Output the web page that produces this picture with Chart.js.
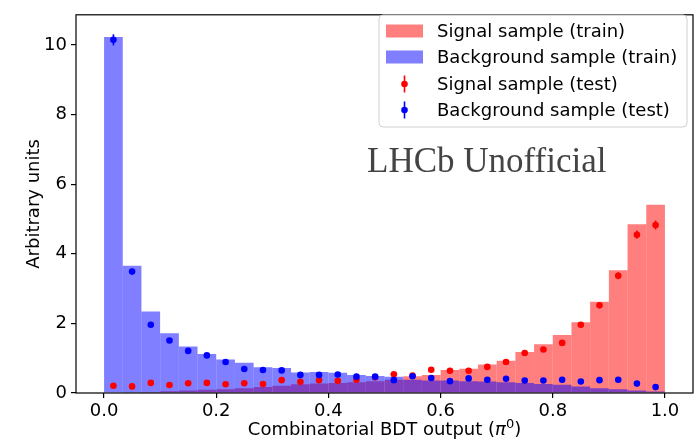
<!DOCTYPE html>
<html>
<head>
<meta charset="utf-8">
<script src="https://cdn.jsdelivr.net/npm/chart.js@4"></script>
<style>
    html, body { margin: 0; padding: 0; background: #fff; }
</style>
</head>
<body>
<canvas id="bdtChart" width="697" height="442"></canvas>
<script>
// bin centres of the 30-bin histogram on [0, 1]
var binCenters = [0.0167, 0.05, 0.0833, 0.1167, 0.15, 0.1833, 0.2167, 0.25, 0.2833, 0.3167,
    0.35, 0.3833, 0.4167, 0.45, 0.4833, 0.5167, 0.55, 0.5833, 0.6167, 0.65,
    0.6833, 0.7167, 0.75, 0.7833, 0.8167, 0.85, 0.8833, 0.9167, 0.95, 0.9833];

// training samples (histograms)
var signalTrain = [0.00, 0.01, 0.03, 0.05, 0.07, 0.09, 0.11, 0.14, 0.17, 0.21,
    0.25, 0.27, 0.29, 0.31, 0.34, 0.38, 0.48, 0.52, 0.66, 0.70,
    0.82, 0.93, 1.18, 1.40, 1.67, 2.03, 2.62, 3.53, 4.85, 5.41];
var backgroundTrain = [10.23, 3.66, 2.34, 1.72, 1.34, 1.12, 0.96, 0.87, 0.74, 0.72,
    0.59, 0.60, 0.58, 0.52, 0.49, 0.47, 0.38, 0.36, 0.36, 0.34,
    0.33, 0.31, 0.29, 0.26, 0.24, 0.19, 0.14, 0.11, 0.07, 0.04];

// test samples (points with errors)
var signalTest = [0.21, 0.19, 0.29, 0.23, 0.28, 0.29, 0.25, 0.28, 0.26, 0.37,
    0.32, 0.37, 0.35, 0.38, 0.45, 0.54, 0.50, 0.67, 0.64, 0.64,
    0.75, 0.89, 1.15, 1.25, 1.44, 1.96, 2.52, 3.37, 4.55, 4.83];
var signalTestErr = [0.02, 0.02, 0.03, 0.02, 0.03, 0.03, 0.03, 0.03, 0.03, 0.03,
    0.03, 0.03, 0.03, 0.03, 0.04, 0.04, 0.04, 0.04, 0.04, 0.04,
    0.05, 0.05, 0.06, 0.06, 0.07, 0.08, 0.09, 0.10, 0.12, 0.13];
var backgroundTest = [10.15, 3.49, 1.96, 1.51, 1.21, 1.08, 0.89, 0.69, 0.66, 0.65,
    0.52, 0.52, 0.53, 0.47, 0.47, 0.37, 0.48, 0.43, 0.34, 0.42,
    0.38, 0.41, 0.36, 0.36, 0.38, 0.33, 0.37, 0.38, 0.27, 0.17];
var backgroundTestErr = [0.16, 0.09, 0.07, 0.06, 0.05, 0.05, 0.04, 0.04, 0.04, 0.04,
    0.03, 0.03, 0.03, 0.03, 0.03, 0.03, 0.03, 0.03, 0.03, 0.03,
    0.03, 0.03, 0.03, 0.03, 0.03, 0.03, 0.03, 0.03, 0.02, 0.02];

var xTicks = [0.0, 0.2, 0.4, 0.6, 0.8, 1.0];
var yTicks = [0, 2, 4, 6, 8, 10];

var labelFont = "DejaVu Sans";

function toPoints(values) {
    return binCenters.map(function (c, i) {
        return { x: c, y: values[i] };
    });
}

// error bars, drawn under the markers of the test datasets
var errorBarPlugin = {
    id: "errorBars",
    beforeDatasetDraw: function (chart, args) {
        var ds = chart.data.datasets[args.index];
        if (!ds.errors) return;
        var ctx = chart.ctx;
        var xs = chart.scales.x, ys = chart.scales.y;
        ctx.save();
        ctx.strokeStyle = ds.borderColor;
        ctx.lineWidth = 1.6;
        ds.data.forEach(function (p, i) {
            var px = xs.getPixelForValue(p.x);
            ctx.beginPath();
            ctx.moveTo(px, ys.getPixelForValue(p.y - ds.errors[i]));
            ctx.lineTo(px, ys.getPixelForValue(p.y + ds.errors[i]));
            ctx.stroke();
        });
        ctx.restore();
    },
};

// frame, axis titles, legend box and the "LHCb Unofficial" label
var decorPlugin = {
    id: "decor",
    afterDraw: function (chart) {
        var ctx = chart.ctx;
        var a = chart.chartArea;
        ctx.save();

        // spines
        ctx.strokeStyle = "#000";
        ctx.lineWidth = 1.2;
        ctx.strokeRect(a.left, a.top, a.right - a.left, a.bottom - a.top);

        // y title
        ctx.fillStyle = "#000";
        ctx.font = "18px " + labelFont;
        ctx.textAlign = "center";
        ctx.textBaseline = "middle";
        ctx.save();
        ctx.translate(34, (a.top + a.bottom) / 2);
        ctx.rotate(-Math.PI / 2);
        ctx.fillText("Arbitrary units", 0, 0);
        ctx.restore();

        // x title with math part
        var parts = [
            { t: "Combinatorial BDT output (", f: "18px " + labelFont, dy: 0 },
            { t: "π", f: "italic 18px " + labelFont, dy: 0 },
            { t: "0", f: "13px " + labelFont, dy: -7 },
            { t: ")", f: "18px " + labelFont, dy: 0 },
        ];
        var total = 0;
        parts.forEach(function (p) {
            ctx.font = p.f;
            p.w = ctx.measureText(p.t).width;
            total += p.w;
        });
        var tx = (a.left + a.right) / 2 - total / 2;
        ctx.textAlign = "left";
        ctx.textBaseline = "alphabetic";
        parts.forEach(function (p) {
            ctx.font = p.f;
            ctx.fillText(p.t, tx, 435 + p.dy);
            tx += p.w;
        });

        // legend
        var lx = 379, ly = 15, lw = 308, lh = 112;
        ctx.beginPath();
        ctx.roundRect(lx, ly, lw, lh, 4);
        ctx.fillStyle = "rgba(255,255,255,0.8)";
        ctx.fill();
        ctx.strokeStyle = "#d0d0d0";
        ctx.lineWidth = 1;
        ctx.stroke();

        var rowY = [31, 57, 84, 110];
        ctx.font = "18px " + labelFont;
        ctx.textBaseline = "middle";
        chart.data.datasets.forEach(function (ds, i) {
            var y = rowY[i];
            if (ds.errors) {
                ctx.strokeStyle = ds.borderColor;
                ctx.lineWidth = 1.6;
                ctx.beginPath();
                ctx.moveTo(404.5, y - 8.5);
                ctx.lineTo(404.5, y + 8.5);
                ctx.stroke();
                ctx.fillStyle = ds.backgroundColor;
                ctx.beginPath();
                ctx.arc(404.5, y, 3.3, 0, Math.PI * 2);
                ctx.fill();
            } else {
                ctx.fillStyle = ds.backgroundColor;
                ctx.fillRect(386, y - 6.5, 37, 13);
            }
            ctx.fillStyle = "#000";
            ctx.fillText(ds.label, 437, y + 1);
        });

        // watermark-like label
        ctx.fillStyle = "#444";
        ctx.font = "35px 'Liberation Serif'";
        ctx.textBaseline = "alphabetic";
        ctx.fillText("LHCb Unofficial", 367, 172);

        ctx.restore();
    },
};

var ctx = document.getElementById("bdtChart").getContext("2d");

var bdtChart = new Chart(ctx, {
    type: "bar",
    data: {
        datasets: [
            {
                label: "Signal sample (train)",
                data: toPoints(signalTrain),
                backgroundColor: "rgba(255,0,0,0.5)",
                borderWidth: 0,
                inflateAmount: 0,
                barPercentage: 1,
                categoryPercentage: 1,
                grouped: false,
                order: 4,
            },
            {
                label: "Background sample (train)",
                data: toPoints(backgroundTrain),
                backgroundColor: "rgba(0,0,255,0.5)",
                borderWidth: 0,
                inflateAmount: 0,
                barPercentage: 1,
                categoryPercentage: 1,
                grouped: false,
                order: 3,
            },
            {
                type: "line",
                label: "Signal sample (test)",
                data: toPoints(signalTest),
                errors: signalTestErr,
                showLine: false,
                pointRadius: 3.3,
                pointBorderWidth: 0,
                backgroundColor: "#ff0000",
                borderColor: "#ff0000",
                order: 2,
            },
            {
                type: "line",
                label: "Background sample (test)",
                data: toPoints(backgroundTest),
                errors: backgroundTestErr,
                showLine: false,
                pointRadius: 3.3,
                pointBorderWidth: 0,
                backgroundColor: "#0000ff",
                borderColor: "#0000ff",
                order: 1,
            },
        ],
    },
    options: {
        responsive: false,
        animation: false,
        layout: {
            padding: { top: 6, right: 1, left: 0, bottom: 0 },
        },
        plugins: {
            legend: { display: false },
            tooltip: { enabled: false },
        },
        scales: {
            x: {
                type: "linear",
                min: -0.05,
                max: 1.05,
                offset: false,
                afterBuildTicks: function (scale) {
                    scale.ticks = xTicks.map(function (v) { return { value: v }; });
                },
                afterFit: function (scale) {
                    scale.height = 49;
                },
                grid: {
                    display: true,
                    offset: false,
                    drawOnChartArea: false,
                    drawTicks: true,
                    tickLength: 5,
                    color: "#000",
                    lineWidth: 1.2,
                },
                border: { display: false },
                ticks: {
                    autoSkip: false,
                    maxRotation: 0,
                    padding: 3,
                    color: "#000",
                    font: { size: 18, family: labelFont },
                    callback: function (v) { return v.toFixed(1); },
                },
            },
            y: {
                type: "linear",
                min: 0,
                max: 10.87,
                afterBuildTicks: function (scale) {
                    scale.ticks = yTicks.map(function (v) { return { value: v }; });
                },
                afterFit: function (scale) {
                    scale.width = 76;
                },
                grid: {
                    display: true,
                    drawOnChartArea: false,
                    drawTicks: true,
                    tickLength: 5,
                    color: "#000",
                    lineWidth: 1.2,
                },
                border: { display: false },
                ticks: {
                    padding: 4,
                    color: "#000",
                    font: { size: 18, family: labelFont },
                },
            },
        },
    },
    plugins: [errorBarPlugin, decorPlugin],
});
</script>
</body>
</html>
